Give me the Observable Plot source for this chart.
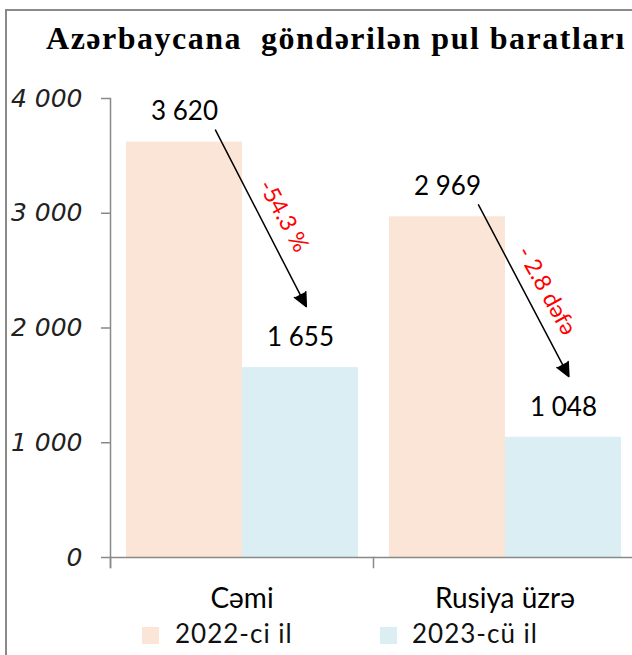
<!DOCTYPE html>
<html>
<head>
<meta charset="utf-8">
<script src="https://cdn.jsdelivr.net/npm/d3@7"></script>
<script src="https://cdn.jsdelivr.net/npm/@observablehq/plot@0.6"></script>
<style>
  html, body { margin: 0; padding: 0; background: #fff; }
  #wrap { position: relative; width: 632px; height: 655px; overflow: hidden; background: #fff; }
  #frameL { position: absolute; left: 5px; top: 9px; width: 2px; height: 660px; background: #8a8a8a; }
  #frameT { position: absolute; left: 5px; top: 9px; width: 640px; height: 2px; background: #8a8a8a; }
  #title { position: absolute; left: 0; width: 672px; top: 18px; text-align: center; white-space: pre;
           font-family: "Liberation Serif", "Times New Roman", serif; font-weight: bold; font-size: 32px;
           letter-spacing: 1.5px; color: #000; line-height: 40px; }
  #chart { position: absolute; left: 0; top: 0; }
  .lg { position: absolute; top: 620px; font-family: Lato, sans-serif; font-size: 26px; line-height: 26px; letter-spacing: 1px; color: #111; }
  .sw { position: absolute; top: 627px; width: 17px; height: 17px; }
</style>
</head>
<body>
<div id="wrap">
  <div id="chart"></div>
  <div id="frameL"></div>
  <div id="frameT"></div>
  <div id="title"></div>
</div>
<script>
const title = "Azərbaycana  göndərilən pul baratları";
const categories = ["Cəmi", "Rusiya üzrə"];
const years = ["2022-ci il", "2023-cü il"];
const values2022 = [3620, 2969];
const values2023 = [1655, 1048];
const changeLabels = ["-54.3 %", "- 2.8 dəfə"];
const yTicks = [0, 1000, 2000, 3000, 4000];
const colors = ["#fbe5d6", "#daeef3"];

const fmt = v => d3.format(",")(v).replace(/,/g, " ");

const rows = categories.flatMap((c, i) => [
  {category: c, year: years[0], value: values2022[i]},
  {category: c, year: years[1], value: values2023[i]}
]);
const changes = categories.map((c, i) => ({
  category: c, fromYear: years[0], toYear: years[1],
  from: values2022[i], to: values2023[i], label: changeLabels[i]
}));

const gray = "#898989";
const chart = Plot.plot({
  width: 632, height: 655,
  marginTop: 98, marginBottom: 98, marginLeft: 110, marginRight: -4,
  style: {background: "transparent", overflow: "visible"},
  fx: {domain: categories, padding: 0},
  x: {domain: years, paddingInner: 0, paddingOuter: 0.124, axis: null},
  y: {domain: [0, 4000], axis: null},
  color: {domain: years, range: colors},
  marks: [
    Plot.barY(rows, {fx: "category", x: "year", y: "value", fill: "year"}),
    Plot.ruleY([0], {stroke: gray, strokeWidth: 1.5}),
    Plot.frame({anchor: "left", facetAnchor: "left", stroke: gray, strokeWidth: 1.5, insetBottom: -10}),
    Plot.frame({anchor: "left", stroke: gray, strokeWidth: 1.5, insetTop: 459, insetBottom: -10}),
    Plot.axisY({ticks: yTicks, tickFormat: fmt, tickSize: 9, tickPadding: 19, stroke: gray, strokeWidth: 1.5,
      fontSize: 25, fontStyle: "italic", fontFamily: "DejaVu Sans", fill: "#222", label: null}),
    Plot.axisFx({anchor: "bottom", tickSize: 0, tickPadding: 31, fontSize: 28, fontFamily: "Lato", fill: "#000", label: null}),
    Plot.text(rows, {fx: "category", x: "year", y: "value", text: d => fmt(d.value), dy: -30,
      fontSize: 26, fontFamily: "Lato", fill: "#000"}),
    Plot.arrow(changes, {fx: "category", x1: "fromYear", y1: "from", x2: "toYear", y2: "to",
      dx: 31, dy: -12, insetEnd: 55, stroke: "#000", fill: "#000", strokeWidth: 1.5,
      headLength: 15, headAngle: 50, bend: 0}),
    Plot.text(changes, {fx: "category", x: "toYear", y: "from", text: "label", rotate: 61,
      dx: -17, dy: 74, fill: "red", fontSize: 23, fontFamily: "Lato"})
  ]
});
document.getElementById("chart").appendChild(chart);
document.getElementById("title").textContent = title;

const wrap = document.getElementById("wrap");
const swX = [142, 380];
const txX = [175, 412];
years.forEach((y, i) => {
  const s = document.createElement("div");
  s.className = "sw"; s.style.left = swX[i] + "px"; s.style.background = colors[i];
  wrap.appendChild(s);
  const t = document.createElement("div");
  t.className = "lg"; t.style.left = txX[i] + "px"; t.textContent = y;
  wrap.appendChild(t);
});
</script>
</body>
</html>
